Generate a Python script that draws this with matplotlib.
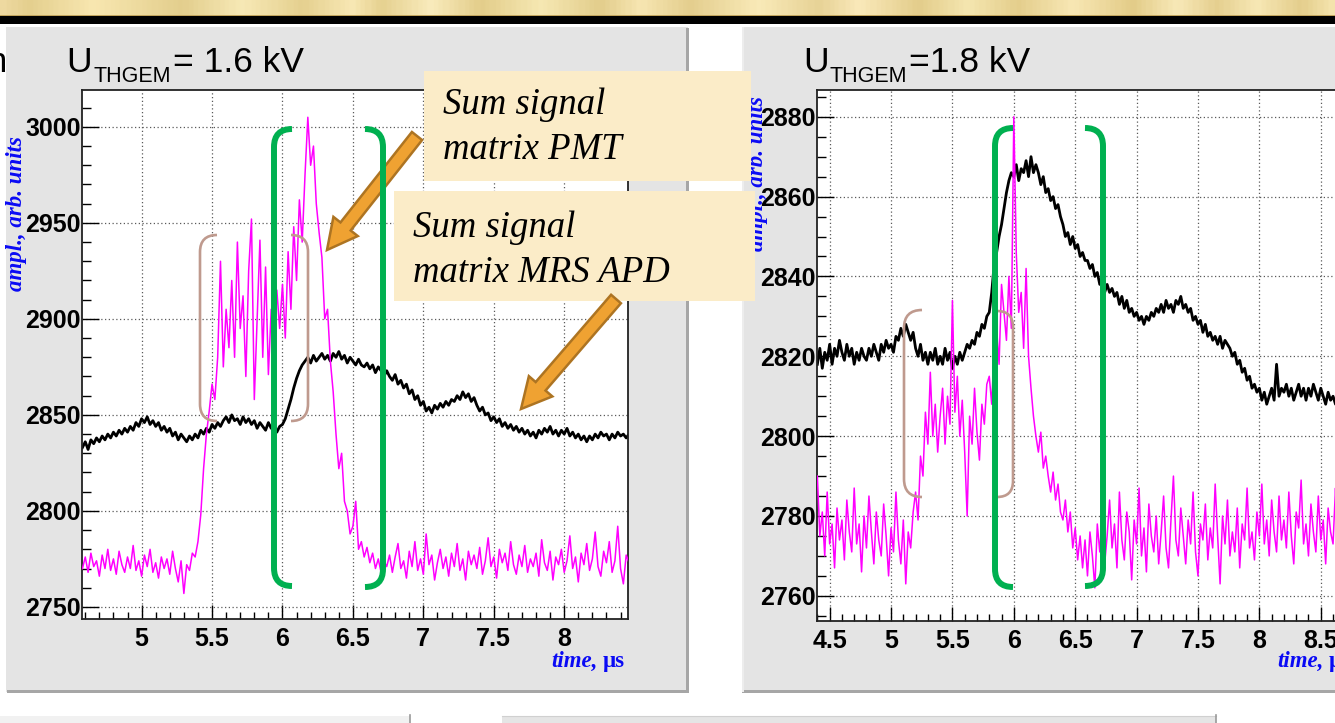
import numpy as np
import matplotlib
matplotlib.use('Agg')
import matplotlib.pyplot as plt
from matplotlib.patches import Rectangle, FancyArrow, PathPatch
from matplotlib.path import Path
from matplotlib.transforms import Affine2D
from matplotlib.ticker import MultipleLocator
from matplotlib.colors import LinearSegmentedColormap
from matplotlib import font_manager as fm

W, H = 1335, 723

# ------------------------------------------------------------------ data
# left panel, U_THGEM = 1.6 kV  (sampling start / step in microseconds)
left_t0, left_dt = 4.58, 0.02
left_apd = [  # black: sum signal matrix MRS APD
    2833, 2836, 2832, 2837, 2835, 2838, 2836, 2839, 2837, 2840,
    2838, 2841, 2839, 2842, 2840, 2843, 2841, 2844, 2842, 2846,
    2844, 2848, 2846, 2849, 2845, 2847, 2844, 2846, 2842, 2844,
    2841, 2843, 2839, 2841, 2837, 2840, 2838, 2836, 2839, 2837,
    2840, 2838, 2842, 2840, 2843, 2841, 2845, 2843, 2846, 2844,
    2847, 2849, 2846, 2850, 2847, 2848, 2845, 2849, 2846, 2848,
    2845, 2847, 2843, 2846, 2844, 2842, 2846, 2843, 2845, 2841,
    2844, 2845, 2848, 2853, 2858, 2864, 2869, 2873, 2876, 2878,
    2880, 2877, 2881, 2878, 2880, 2882, 2879, 2881, 2878, 2882,
    2880, 2883, 2879, 2881, 2877, 2880, 2878, 2876, 2879, 2876,
    2875, 2877, 2874, 2876, 2872, 2875, 2873, 2870, 2873, 2870,
    2868, 2871, 2866, 2868, 2864, 2866, 2861, 2863, 2858, 2860,
    2855, 2857, 2852, 2854, 2851, 2855, 2853, 2856, 2854, 2857,
    2855, 2858, 2857, 2860, 2858, 2862, 2859, 2861, 2857, 2859,
    2855, 2852, 2854, 2850, 2851, 2847, 2849, 2846, 2848, 2844,
    2846, 2843, 2845, 2842, 2844, 2841, 2843, 2840, 2842, 2839,
    2841, 2838, 2842, 2840, 2843, 2841, 2844, 2840, 2842, 2839,
    2842, 2840, 2843, 2839, 2841, 2838, 2840, 2837, 2839, 2836,
    2839, 2837, 2840, 2838, 2841, 2839, 2840, 2837, 2840, 2838,
    2841, 2839, 2840, 2838, 2840]
left_pmt = [  # magenta: sum signal matrix PMT
    2770, 2776, 2768, 2778, 2771, 2774, 2766, 2777, 2770, 2780,
    2769, 2775, 2767, 2779, 2772, 2768, 2776, 2770, 2782, 2769,
    2774, 2766, 2777, 2771, 2780, 2768, 2773, 2765, 2776, 2770,
    2775, 2767, 2779, 2770, 2763, 2774, 2757, 2772, 2769, 2778,
    2776, 2784, 2798, 2822, 2840, 2852, 2866, 2858, 2880, 2930,
    2875, 2905, 2885, 2920, 2880, 2940, 2895, 2912, 2870, 2925,
    2952, 2858, 2900, 2941, 2880, 2927, 2871, 2905, 2888, 2915,
    2895, 2918, 2890, 2935, 2905, 2948, 2920, 2962, 2940, 2975,
    3005, 2980, 2990, 2960, 2945, 2932, 2900, 2905, 2878, 2862,
    2840, 2822, 2830, 2805, 2800, 2788, 2792, 2805, 2780, 2784,
    2776, 2781, 2773, 2778, 2770, 2775, 2768, 2774, 2771, 2777,
    2768, 2776, 2783, 2770, 2774, 2765, 2779, 2771, 2784, 2769,
    2775, 2767, 2788, 2772, 2777, 2764, 2773, 2780, 2770, 2776,
    2766, 2778, 2771, 2783, 2769, 2775, 2764, 2779, 2772, 2777,
    2770, 2781, 2767, 2774, 2786, 2771, 2776, 2765, 2780, 2773,
    2778, 2769, 2784, 2772, 2767, 2777, 2771, 2782, 2768, 2775,
    2771, 2778, 2766, 2785, 2773, 2769, 2779, 2764, 2776, 2772,
    2780, 2768, 2774, 2787, 2770, 2776, 2763, 2778, 2772, 2783,
    2769, 2775, 2789, 2771, 2766, 2779, 2773, 2784, 2768, 2774,
    2792, 2770, 2762, 2777, 2773]

# right panel, U_THGEM = 1.8 kV
right_t0, right_dt = 4.40, 0.02
right_apd = [
    2818, 2822, 2817, 2821, 2819, 2823, 2818, 2822, 2820, 2824,
    2821, 2819, 2823, 2820, 2822, 2818, 2821, 2819, 2822, 2820,
    2819, 2822, 2820, 2823, 2821, 2819, 2823, 2821, 2824, 2822,
    2823, 2821, 2825, 2824, 2827, 2825, 2828, 2826, 2824, 2826,
    2822, 2820, 2823, 2819, 2821, 2818, 2821, 2819, 2822, 2818,
    2820, 2818, 2822, 2819, 2821, 2817, 2820, 2818, 2821, 2819,
    2821, 2823, 2822, 2824, 2823, 2826, 2825, 2828, 2827, 2830,
    2831, 2836, 2843, 2846, 2850, 2853, 2857, 2861, 2864, 2866,
    2865, 2868, 2864, 2867, 2866, 2869, 2865, 2870, 2866, 2868,
    2866, 2863, 2865, 2861, 2862, 2859, 2860, 2857, 2858, 2855,
    2853, 2850, 2851, 2848, 2850, 2847, 2848, 2845, 2846, 2844,
    2844, 2842, 2843, 2840, 2841, 2838, 2839, 2836, 2838, 2836,
    2837, 2835, 2836, 2833, 2835, 2832, 2834, 2831, 2832, 2830,
    2831, 2829, 2830, 2828, 2830, 2829, 2831, 2830, 2832, 2831,
    2833, 2831, 2834, 2832, 2833, 2831, 2834, 2833, 2835, 2832,
    2833, 2831, 2832, 2829, 2830, 2828, 2829, 2826, 2828, 2825,
    2826, 2824, 2825, 2823, 2825, 2822, 2824, 2823, 2822, 2820,
    2821, 2818, 2819, 2816, 2817, 2814, 2815, 2812, 2813, 2811,
    2812, 2809, 2811, 2808, 2810, 2812, 2809, 2818, 2810, 2812,
    2811, 2813, 2810, 2812, 2809, 2811, 2813, 2810, 2812, 2809,
    2812, 2810, 2813, 2811, 2809, 2812, 2810, 2808, 2811, 2809,
    2810, 2808, 2811, 2809, 2812, 2810]
right_pmt = [
    2790, 2775, 2781, 2770, 2786, 2773, 2778, 2767, 2782, 2774,
    2779, 2769, 2784, 2776, 2771, 2787, 2773, 2778, 2766, 2780,
    2772, 2785, 2776, 2768, 2781, 2774, 2770, 2783, 2775, 2765,
    2777, 2771, 2786, 2774, 2768, 2779, 2763, 2776, 2772, 2781,
    2786, 2779, 2795, 2790, 2806, 2798, 2816, 2800, 2808, 2796,
    2805, 2812, 2798, 2810, 2803, 2834, 2806, 2815, 2800, 2809,
    2796, 2780, 2805, 2798, 2812, 2801, 2794, 2808, 2803, 2813,
    2815, 2808, 2822, 2827, 2818, 2838, 2831, 2824, 2840, 2827,
    2880, 2846, 2831, 2836, 2822, 2842, 2820, 2812, 2805, 2800,
    2796, 2801, 2792, 2795, 2790, 2786, 2791, 2784, 2788, 2781,
    2779, 2784, 2776, 2781, 2772, 2777, 2769, 2775, 2767, 2774,
    2765, 2776, 2770, 2762, 2778, 2771, 2780, 2768, 2775, 2784,
    2772, 2778, 2767, 2786, 2774, 2769, 2781, 2776, 2764, 2779,
    2773, 2787, 2770, 2777, 2766, 2783, 2775, 2771, 2780, 2768,
    2776, 2785, 2772, 2767, 2779, 2790, 2774, 2770, 2782, 2775,
    2768, 2779, 2773, 2786, 2771, 2765, 2778, 2774, 2783, 2769,
    2777, 2772, 2788, 2775, 2763, 2780, 2773, 2784, 2770, 2776,
    2771, 2782, 2767, 2778, 2774, 2787, 2772, 2776, 2769, 2781,
    2775, 2788, 2773, 2779, 2770, 2784, 2776, 2771, 2785, 2774,
    2779, 2772, 2786, 2775, 2768, 2781, 2777, 2789, 2773, 2778,
    2770, 2783, 2776, 2771, 2785, 2774, 2779, 2768, 2782, 2776,
    2773, 2787, 2771, 2778, 2769, 2781]

left_xticks = [5, 5.5, 6, 6.5, 7, 7.5, 8]
left_xlabels = ['5', '5.5', '6', '6.5', '7', '7.5', '8']
left_yticks = [2750, 2800, 2850, 2900, 2950, 3000]
left_ylabels = ['2750', '2800', '2850', '2900', '2950', '3000']
right_xticks = [4.5, 5, 5.5, 6, 6.5, 7, 7.5, 8, 8.5]
right_xlabels = ['4.5', '5', '5.5', '6', '6.5', '7', '7.5', '8', '8.5']
right_yticks = [2760, 2780, 2800, 2820, 2840, 2860, 2880]
right_ylabels = ['2760', '2780', '2800', '2820', '2840', '2860', '2880']

title_sub = 'THGEM'
left_title_value = '= 1.6 kV'
right_title_value = '=1.8 kV'
ylabel_text = 'ampl., arb. units'
xlabel_text = ('time,', 'μs')
box1_lines = ['Sum signal', 'matrix PMT']
box2_lines = ['Sum signal', 'matrix MRS APD']

# ------------------------------------------------------------------ style
def has_font(name):
    try:
        fm.findfont(fm.FontProperties(family=name), fallback_to_default=False)
        return True
    except Exception:
        return False

SANS = 'Liberation Sans' if has_font('Liberation Sans') else 'DejaVu Sans'
SERIF = 'Liberation Serif' if has_font('Liberation Serif') else 'DejaVu Serif'
NARROW = 'Liberation Sans Narrow' if has_font('Liberation Sans Narrow') else None

plt.rcParams['font.family'] = [SANS, 'DejaVu Sans']

MAGENTA = '#FF00FF'
GREEN = '#00B050'
BROWN = '#BF9A8E'
PANEL = '#E4E4E4'
BOXC = '#FBECC8'
BLUE = '#0A0AF5'
ARROW_FC = '#EFA232'
ARROW_EC = '#AD7422'

fig = plt.figure(figsize=(W / 100, H / 100), dpi=100)
fig.patch.set_facecolor('white')
PX = Affine2D().scale(1.0 / W, -1.0 / H).translate(0, 1) + fig.transFigure


def rect(x0, y0, x1, y1, fc, z, ec='none', lw=0):
    fig.add_artist(Rectangle((x0, y0), x1 - x0, y1 - y0, transform=PX,
                             facecolor=fc, edgecolor=ec, linewidth=lw, zorder=z))


def line(xs, ys, color, lw, z):
    fig.add_artist(plt.Line2D(xs, ys, transform=PX, color=color, lw=lw, zorder=z))


# ---- top decorative band
stops = [(0, '#EED9A0'), (25, '#E4CF8E'), (90, '#F8E7B0'), (180, '#E3CE8D'),
         (240, '#F7E9B6'), (300, '#E5D08F'), (350, '#F8E8B4'), (380, '#E6D190'),
         (430, '#F9EBBC'), (480, '#E3CD8A'), (540, '#F6E8B3'), (600, '#E2CD8B'),
         (640, '#F7E6B2'), (690, '#E4CE8E'), (760, '#F9EAB8'), (820, '#E7D296'),
         (860, '#FAE9BA'), (920, '#E3CD8B'), (970, '#F5E6B0'), (1020, '#E4CE8C'),
         (1075, '#F8E7B4'), (1135, '#E3CC88'), (1180, '#F8E9B8'), (1220, '#E5CF8F'),
         (1260, '#F7E8B5'), (1305, '#E4CE8C'), (1335, '#F4E3AC')]
cmap = LinearSegmentedColormap.from_list('gold', [(p / W, c) for p, c in stops])
ax_band = fig.add_axes([0, 1 - 15 / H, 1, 15 / H])
ax_band.imshow(np.linspace(0, 1, 600)[np.newaxis, :], cmap=cmap, aspect='auto',
               extent=[0, 1, 0, 1])
ax_band.axis('off')
rect(0, 15, W, 16, '#C2A45C', 1)
rect(0, 16, W, 24, 'black', 1)

# ---- partial letter at the left edge (cut by panel)
fig.text(-12, 72, 'n', transform=PX, fontsize=25, family=SANS, color='black',
         va='baseline', zorder=-3)

# ---- grey panels
rect(6, 27, 688, 692, PANEL, -2)
rect(686, 28, 689, 693, '#A6A6A6', -1.9)
rect(7, 690, 689, 693, '#A6A6A6', -1.9)
rect(742, 27, W + 5, 692, PANEL, -2)
rect(742, 690, W + 5, 693, '#A6A6A6', -1.9)
rect(742, 27, 744, 692, '#EDEDED', -1.9)

# ---- bottom partial boxes
rect(0, 716, 410, H + 2, '#F1F1F1', -2)
line([410, 410], [715, H], '#9A9A9A', 1.2, -1)
rect(502, 716, 1216, H + 2, '#E5E5E5', -2)
line([502, 1216], [716, 716], '#D0D0D0', 0.8, -1)
line([1216, 1216], [715, H], '#9A9A9A', 1.2, -1)


# ---- axes
def make_axes(x0, y_top, x1, y_bot):
    return fig.add_axes([x0 / W, 1 - y_bot / H, (x1 - x0) / W, (y_bot - y_top) / H])


def style_axes(ax, xlim, ylim, xt, xl, yt, yl, yminor, xpad):
    ax.set_xlim(*xlim)
    ax.set_ylim(*ylim)
    ax.set_xticks(xt, xl)
    ax.set_yticks(yt, yl)
    ax.xaxis.set_minor_locator(MultipleLocator(0.1))
    ax.yaxis.set_minor_locator(MultipleLocator(yminor))
    ax.tick_params(which='both', direction='in', top=False, right=False,
                   color='black', width=1.0)
    ax.tick_params(axis='x', which='major', length=10, pad=xpad)
    ax.tick_params(axis='x', which='minor', length=5)
    ax.tick_params(axis='y', which='major', length=12.5, pad=1.2)
    ax.tick_params(axis='y', which='minor', length=6.5)
    for lab in ax.get_xticklabels() + ax.get_yticklabels():
        lab.set_fontweight('bold')
        lab.set_fontsize(18)
        lab.set_family(SANS)
    ax.grid(True, which='major', color='#5A5A5A', linestyle=(0, (1, 2.0)),
            linewidth=0.9)
    ax.set_axisbelow(True)
    for s in ax.spines.values():
        s.set_linewidth(1.3)
        s.set_color('#222222')
    ax.set_facecolor('white')


axL = make_axes(82.3, 90, 628.3, 619)
tL = left_t0 + left_dt * np.arange(len(left_apd))
tLp = left_t0 + left_dt * np.arange(len(left_pmt))
axL.plot(tL, left_apd, color='black', lw=2.0, zorder=2)
axL.plot(tLp, left_pmt, color=MAGENTA, lw=1.1, zorder=3)
style_axes(axL, (4.579, 8.455), (2743.7, 3019.2), left_xticks, left_xlabels,
           left_yticks, left_ylabels, 10, 6)

axR = make_axes(817, 90, 1357.6, 621)
tR = right_t0 + right_dt * np.arange(len(right_apd))
tRp = right_t0 + right_dt * np.arange(len(right_pmt))
axR.plot(tR, right_apd, color='black', lw=2.0, zorder=2)
axR.plot(tRp, right_pmt, color=MAGENTA, lw=1.1, zorder=3)
style_axes(axR, (4.397, 8.8), (2753.7, 2886.7), right_xticks, right_xlabels,
           right_yticks, right_ylabels, 5, 5.5)


# ---- titles
def title(xu, xs, xv, value):
    fig.text(xu, 72, 'U', transform=PX, fontsize=25.5, family=SANS, va='baseline', zorder=1)
    if NARROW:
        fig.text(xs, 81.5, title_sub, transform=PX, fontsize=17, family=NARROW,
                 va='baseline', zorder=1)
    else:
        fig.text(xs, 81.5, title_sub, transform=PX, fontsize=15.5, family=SANS,
                 va='baseline', zorder=1)
    fig.text(xv, 72, value, transform=PX, fontsize=25.5, family=SANS, va='baseline', zorder=1)


title(66, 93, 173, left_title_value)
title(803, 829, 909, right_title_value)

# ---- axis titles
for (cx, cy) in [(17, 214), (757, 174)]:
    fig.text(cx, cy, ylabel_text, transform=PX, rotation=90, ha='center', va='center',
             fontsize=16.5, family=SERIF, fontweight='bold', style='italic',
             color=BLUE, zorder=1, rotation_mode='anchor')
for (x_time, x_mu) in [(551, 603), (1277, 1329)]:
    fig.text(x_time, 667, xlabel_text[0], transform=PX, fontsize=16.5, family=SERIF,
             fontweight='bold', style='italic', color=BLUE, va='baseline', zorder=1)
    fig.text(x_mu, 667, xlabel_text[1], transform=PX, fontsize=16.5, family=SERIF,
             fontweight='bold', color=BLUE, va='baseline', zorder=1)


# ---- brackets
def bracket(x_vert, x_tip, y_top, y_bot, color, lw):
    r = abs(x_tip - x_vert)
    verts = [(x_tip, y_top), (x_vert, y_top), (x_vert, y_top + r),
             (x_vert, y_bot - r), (x_vert, y_bot), (x_tip, y_bot)]
    codes = [Path.MOVETO, Path.CURVE3, Path.CURVE3, Path.LINETO, Path.CURVE3, Path.CURVE3]
    fig.add_artist(PathPatch(Path(verts, codes), transform=PX, facecolor='none',
                             edgecolor=color, lw=lw, capstyle='butt', zorder=8))


bracket(200, 217, 235, 421, BROWN, 1.9)
bracket(308, 291, 235, 421, BROWN, 1.9)
bracket(274, 292, 129, 586, GREEN, 4.3)
bracket(383, 365, 129, 587, GREEN, 4.3)
bracket(904, 922, 310, 497, BROWN, 1.9)
bracket(1013, 997, 311, 497, BROWN, 1.9)
bracket(995, 1013, 128, 587, GREEN, 4.3)
bracket(1103, 1085, 128, 586, GREEN, 4.3)

# ---- annotation boxes
rect(424, 71, 751, 181, BOXC, 5)
rect(394, 191, 755, 301, BOXC, 5)
for (x, ys, lines) in [(443, (114, 159), box1_lines), (413, (237, 282), box2_lines)]:
    for yb, txt in zip(ys, lines):
        fig.text(x, yb, txt, transform=PX, fontsize=26.5, family=SERIF, style='italic',
                 color='black', va='baseline', zorder=6)

# ---- arrows
for (x0, y0, x1, y1) in [(417, 136, 327, 250), (616, 299, 521, 409)]:
    fig.add_artist(FancyArrow(x0, y0, x1 - x0, y1 - y0, width=13, head_width=31,
                              head_length=30, length_includes_head=True, transform=PX,
                              facecolor=ARROW_FC, edgecolor=ARROW_EC, lw=1.8, zorder=7))

fig.savefig('out.png', dpi=100, facecolor='white')
